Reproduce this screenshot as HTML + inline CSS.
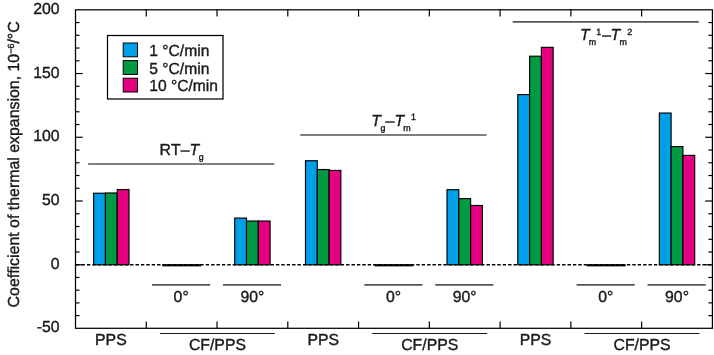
<!DOCTYPE html>
<html><head><meta charset="utf-8"><title>Coefficient of thermal expansion</title>
<style>html,body{margin:0;padding:0;background:#fff}body{width:714px;height:355px;overflow:hidden}svg{display:block}text{text-rendering:geometricPrecision;font-variant-ligatures:none;font-kerning:none;font-family:"Liberation Sans",sans-serif;fill:#1a1a1a;stroke:#1a1a1a;stroke-width:0.38px}</style></head><body>
<svg width="714" height="355" viewBox="0 0 714 355">
<rect x="0" y="0" width="714" height="355" fill="#fff"/>
<line x1="75.5" y1="264.75" x2="712.4" y2="264.75" stroke="#000" stroke-width="1.3" stroke-dasharray="3.4 2" stroke-dashoffset="-0.6"/>
<g stroke="#000" stroke-width="1.15">
<rect x="93.64" y="193.24" width="11.79" height="71.51" fill="#00a0e9"/>
<rect x="105.44" y="192.98" width="11.79" height="71.77" fill="#009944"/>
<rect x="117.23" y="189.54" width="11.79" height="75.21" fill="#e4007f"/>
<rect x="234.72" y="218.09" width="11.79" height="46.66" fill="#00a0e9"/>
<rect x="246.52" y="221.03" width="11.79" height="43.72" fill="#009944"/>
<rect x="258.31" y="221.03" width="11.79" height="43.72" fill="#e4007f"/>
<rect x="305.49" y="160.73" width="11.79" height="104.02" fill="#00a0e9"/>
<rect x="317.29" y="169.53" width="11.79" height="95.22" fill="#009944"/>
<rect x="329.08" y="170.42" width="11.79" height="94.33" fill="#e4007f"/>
<rect x="447.02" y="189.67" width="11.79" height="75.08" fill="#00a0e9"/>
<rect x="458.82" y="198.59" width="11.79" height="66.16" fill="#009944"/>
<rect x="470.61" y="205.47" width="11.79" height="59.28" fill="#e4007f"/>
<rect x="517.79" y="94.57" width="11.79" height="170.18" fill="#00a0e9"/>
<rect x="529.59" y="56.20" width="11.79" height="208.55" fill="#009944"/>
<rect x="541.38" y="47.34" width="11.79" height="217.41" fill="#e4007f"/>
<rect x="659.32" y="113.05" width="11.79" height="151.70" fill="#00a0e9"/>
<rect x="671.12" y="146.58" width="11.79" height="118.17" fill="#009944"/>
<rect x="682.91" y="155.38" width="11.79" height="109.37" fill="#e4007f"/>
</g>
<rect x="162.25" y="264.15" width="38.8" height="2.2" fill="#000"/>
<rect x="374.55" y="264.15" width="38.8" height="2.2" fill="#000"/>
<rect x="586.85" y="264.15" width="38.8" height="2.2" fill="#000"/>
<rect x="75.5" y="9.8" width="636.90" height="318.50" fill="none" stroke="#000" stroke-width="1.25"/>
<g stroke="#000" stroke-width="1.2">
<line x1="75.5" y1="315.59" x2="79.5" y2="315.59"/>
<line x1="712.4" y1="315.59" x2="708.40" y2="315.59"/>
<line x1="75.5" y1="302.88" x2="79.5" y2="302.88"/>
<line x1="712.4" y1="302.88" x2="708.40" y2="302.88"/>
<line x1="75.5" y1="290.17" x2="79.5" y2="290.17"/>
<line x1="712.4" y1="290.17" x2="708.40" y2="290.17"/>
<line x1="75.5" y1="277.46" x2="79.5" y2="277.46"/>
<line x1="712.4" y1="277.46" x2="708.40" y2="277.46"/>
<line x1="75.5" y1="264.75" x2="82.7" y2="264.75"/>
<line x1="712.4" y1="264.75" x2="705.20" y2="264.75"/>
<line x1="75.5" y1="252.00" x2="79.5" y2="252.00"/>
<line x1="712.4" y1="252.00" x2="708.40" y2="252.00"/>
<line x1="75.5" y1="239.26" x2="79.5" y2="239.26"/>
<line x1="712.4" y1="239.26" x2="708.40" y2="239.26"/>
<line x1="75.5" y1="226.51" x2="79.5" y2="226.51"/>
<line x1="712.4" y1="226.51" x2="708.40" y2="226.51"/>
<line x1="75.5" y1="213.76" x2="79.5" y2="213.76"/>
<line x1="712.4" y1="213.76" x2="708.40" y2="213.76"/>
<line x1="75.5" y1="201.01" x2="82.7" y2="201.01"/>
<line x1="712.4" y1="201.01" x2="705.20" y2="201.01"/>
<line x1="75.5" y1="188.27" x2="79.5" y2="188.27"/>
<line x1="712.4" y1="188.27" x2="708.40" y2="188.27"/>
<line x1="75.5" y1="175.52" x2="79.5" y2="175.52"/>
<line x1="712.4" y1="175.52" x2="708.40" y2="175.52"/>
<line x1="75.5" y1="162.77" x2="79.5" y2="162.77"/>
<line x1="712.4" y1="162.77" x2="708.40" y2="162.77"/>
<line x1="75.5" y1="150.02" x2="79.5" y2="150.02"/>
<line x1="712.4" y1="150.02" x2="708.40" y2="150.02"/>
<line x1="75.5" y1="137.28" x2="82.7" y2="137.28"/>
<line x1="712.4" y1="137.28" x2="705.20" y2="137.28"/>
<line x1="75.5" y1="124.53" x2="79.5" y2="124.53"/>
<line x1="712.4" y1="124.53" x2="708.40" y2="124.53"/>
<line x1="75.5" y1="111.78" x2="79.5" y2="111.78"/>
<line x1="712.4" y1="111.78" x2="708.40" y2="111.78"/>
<line x1="75.5" y1="99.03" x2="79.5" y2="99.03"/>
<line x1="712.4" y1="99.03" x2="708.40" y2="99.03"/>
<line x1="75.5" y1="86.28" x2="79.5" y2="86.28"/>
<line x1="712.4" y1="86.28" x2="708.40" y2="86.28"/>
<line x1="75.5" y1="73.54" x2="82.7" y2="73.54"/>
<line x1="712.4" y1="73.54" x2="705.20" y2="73.54"/>
<line x1="75.5" y1="60.79" x2="79.5" y2="60.79"/>
<line x1="712.4" y1="60.79" x2="708.40" y2="60.79"/>
<line x1="75.5" y1="48.04" x2="79.5" y2="48.04"/>
<line x1="712.4" y1="48.04" x2="708.40" y2="48.04"/>
<line x1="75.5" y1="35.30" x2="79.5" y2="35.30"/>
<line x1="712.4" y1="35.30" x2="708.40" y2="35.30"/>
<line x1="75.5" y1="22.55" x2="79.5" y2="22.55"/>
<line x1="712.4" y1="22.55" x2="708.40" y2="22.55"/>
<line x1="146.27" y1="9.8" x2="146.27" y2="16.6"/>
<line x1="146.27" y1="328.3" x2="146.27" y2="321.5"/>
<line x1="217.03" y1="9.8" x2="217.03" y2="16.6"/>
<line x1="217.03" y1="328.3" x2="217.03" y2="321.5"/>
<line x1="287.80" y1="9.8" x2="287.80" y2="16.6"/>
<line x1="287.80" y1="328.3" x2="287.80" y2="321.5"/>
<line x1="358.57" y1="9.8" x2="358.57" y2="16.6"/>
<line x1="358.57" y1="328.3" x2="358.57" y2="321.5"/>
<line x1="429.33" y1="9.8" x2="429.33" y2="16.6"/>
<line x1="429.33" y1="328.3" x2="429.33" y2="321.5"/>
<line x1="500.10" y1="9.8" x2="500.10" y2="16.6"/>
<line x1="500.10" y1="328.3" x2="500.10" y2="321.5"/>
<line x1="570.87" y1="9.8" x2="570.87" y2="16.6"/>
<line x1="570.87" y1="328.3" x2="570.87" y2="321.5"/>
<line x1="641.63" y1="9.8" x2="641.63" y2="16.6"/>
<line x1="641.63" y1="328.3" x2="641.63" y2="321.5"/>
</g>
<text transform="translate(59.6,13.85) scale(0.9875,1)" font-size="16" text-anchor="end">200</text>
<text transform="translate(59.6,77.59) scale(0.9875,1)" font-size="16" text-anchor="end">150</text>
<text transform="translate(59.6,141.33) scale(0.9875,1)" font-size="16" text-anchor="end">100</text>
<text transform="translate(59.6,205.06) scale(0.9875,1)" font-size="16" text-anchor="end">50</text>
<text transform="translate(59.6,268.80) scale(0.9875,1)" font-size="16" text-anchor="end">0</text>
<text transform="translate(59.6,332.35) scale(0.9875,1)" font-size="16" text-anchor="end">-50</text>
<text transform="translate(19.2,307.4) rotate(-90) scale(0.9934,1)" font-size="16">Coefficient of thermal expansion, 10<tspan font-size="9" dy="-5.2">−6</tspan><tspan dy="5.2">/°C</tspan></text>
<rect x="107.5" y="35.5" width="115.5" height="63.5" fill="#fff" stroke="#000" stroke-width="1.25"/>
<rect x="123.2" y="43.00" width="14.3" height="13.8" fill="#00a0e9" stroke="#000" stroke-width="1"/>
<text transform="translate(149.3,56.00) scale(0.9757,1)" font-size="16">1 °C/min</text>
<rect x="123.2" y="60.60" width="14.3" height="13.8" fill="#009944" stroke="#000" stroke-width="1"/>
<text transform="translate(149.3,73.60) scale(0.9757,1)" font-size="16">5 °C/min</text>
<rect x="123.2" y="78.20" width="14.3" height="13.8" fill="#e4007f" stroke="#000" stroke-width="1"/>
<text transform="translate(149.3,91.20) scale(0.9757,1)" font-size="16">10 °C/min</text>
<g stroke="#55554f" stroke-width="1.6">
<line x1="88.1" y1="163.95" x2="274.4" y2="163.95"/>
<line x1="300.2" y1="135.05" x2="486.5" y2="135.05"/>
<line x1="512.7" y1="21.9" x2="698.8" y2="21.9"/>
<line x1="152.00" y1="284.9" x2="210.10" y2="284.9"/>
<line x1="223.00" y1="284.9" x2="281.10" y2="284.9"/>
<line x1="364.30" y1="284.9" x2="422.40" y2="284.9"/>
<line x1="435.30" y1="284.9" x2="493.40" y2="284.9"/>
<line x1="576.60" y1="284.9" x2="634.70" y2="284.9"/>
<line x1="647.60" y1="284.9" x2="705.70" y2="284.9"/>
</g>
<g stroke="#1a1a1a" stroke-width="1.1">
<line x1="159.90" y1="333.45" x2="274.80" y2="333.45"/>
<line x1="372.20" y1="333.45" x2="487.10" y2="333.45"/>
<line x1="584.50" y1="333.45" x2="699.40" y2="333.45"/>
</g>
<text transform="translate(110.88,345.35) scale(0.9875,1)" font-size="16" text-anchor="middle">PPS</text>
<text transform="translate(217.43,350.15) scale(0.9875,1)" font-size="16" text-anchor="middle">CF/PPS</text>
<text transform="translate(181.15,301.7) scale(0.9875,1)" font-size="16" text-anchor="middle">0°</text>
<text transform="translate(252.42,301.7) scale(0.9875,1)" font-size="16" text-anchor="middle">90°</text>
<text transform="translate(323.18,345.35) scale(0.9875,1)" font-size="16" text-anchor="middle">PPS</text>
<text transform="translate(429.73,350.15) scale(0.9875,1)" font-size="16" text-anchor="middle">CF/PPS</text>
<text transform="translate(393.45,301.7) scale(0.9875,1)" font-size="16" text-anchor="middle">0°</text>
<text transform="translate(464.72,301.7) scale(0.9875,1)" font-size="16" text-anchor="middle">90°</text>
<text transform="translate(535.48,345.35) scale(0.9875,1)" font-size="16" text-anchor="middle">PPS</text>
<text transform="translate(642.03,350.15) scale(0.9875,1)" font-size="16" text-anchor="middle">CF/PPS</text>
<text transform="translate(605.75,301.7) scale(0.9875,1)" font-size="16" text-anchor="middle">0°</text>
<text transform="translate(677.02,301.7) scale(0.9875,1)" font-size="16" text-anchor="middle">90°</text>
<text transform="translate(159.6,154.75) scale(0.9875,1)" font-size="16">RT–<tspan font-style="italic">T</tspan><tspan font-size="9" dy="5.4" dx="-0.3">g</tspan></text>
<text transform="translate(371.3,125.6) scale(0.9875,1)" font-size="16"><tspan font-style="italic">T</tspan><tspan font-size="9" dy="5.4" dx="-0.5">g</tspan><tspan dy="-5.4">–</tspan><tspan font-style="italic" dx="0.2">T</tspan><tspan font-size="9" dy="5.4" dx="-0.9">m</tspan><tspan font-size="9" dy="-10.9" dx="0.5">1</tspan></text>
<text transform="translate(580,40) scale(0.9875,1)" font-size="16"><tspan font-style="italic">T</tspan><tspan font-size="9" dy="5.4" dx="-0.9">m</tspan><tspan font-size="9" dy="-10.9" dx="0.2">1</tspan><tspan dy="5.5" dx="0.9">–</tspan><tspan font-style="italic" dx="-0.4">T</tspan><tspan font-size="9" dy="5.4" dx="-0.9">m</tspan><tspan font-size="9" dy="-10.9" dx="0.5">2</tspan></text>
</svg></body></html>
